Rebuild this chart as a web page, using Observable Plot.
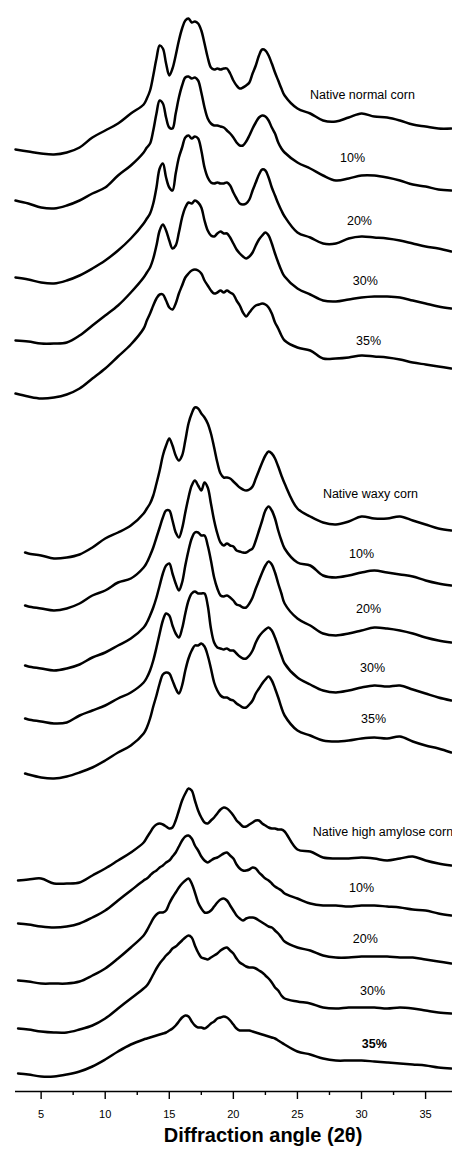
<!DOCTYPE html>
<html><head><meta charset="utf-8">
<script src="https://cdn.jsdelivr.net/npm/d3@7"></script>
<script src="https://cdn.jsdelivr.net/npm/@observablehq/plot@0.6"></script>
<style>html,body{margin:0;padding:0;background:#fff;overflow:hidden}</style>
</head><body><div id="chart"></div>
<script>
// 2θ grid (degrees)
const angles = [3,4,5,6,7,8,9,10,11,12,13,13.25,13.5,13.75,14,14.25,14.5,14.75,15,15.25,15.5,15.75,16,16.25,16.5,16.75,17,17.25,17.5,17.75,18,18.25,18.5,18.75,19,19.25,19.5,19.75,20,20.25,20.5,20.75,21,21.25,21.5,21.75,22,22.25,22.5,22.75,23,23.25,23.5,23.75,24,25,26,27,28,29,30,31,32,33,34,35,36,37];
// first scan angle of each starch group
const startAngle = [3, 3.75, 3.2];

// stacked intensities (a.u.)
const normalNative = [942,940,938,937,939,944,954,961,968,978,987,993,1001,1016,1033,1046,1043,1028,1016,1023,1036,1051,1063,1071,1073,1069,1070,1068,1061,1048,1034,1024,1022,1023,1022,1023,1023,1018,1011,1006,1003,1004,1006,1009,1018,1026,1036,1042,1041,1036,1028,1019,1011,1003,996,983,978,971,970,974,978,975,974,971,967,965,963,963];
const normal10 = [891,888,884,883,886,891,898,904,916,926,939,944,948,961,978,991,988,974,964,963,978,994,1006,1014,1015,1013,1014,1011,999,984,973,968,966,966,965,964,961,958,954,949,946,946,950,956,963,969,974,976,975,971,964,958,949,943,939,929,923,916,911,913,916,916,914,911,907,905,902,901];
const normal20 = [814,812,809,808,811,816,823,831,841,853,868,873,878,888,904,923,928,914,904,901,918,934,944,954,956,953,955,953,941,924,914,909,908,909,908,908,909,906,899,893,888,887,888,892,901,909,917,922,921,914,904,896,888,881,875,859,854,848,848,853,855,854,853,851,848,845,843,840];
const normal30 = [751,750,748,748,749,756,766,776,786,799,814,819,824,833,846,861,867,861,851,843,846,859,874,884,889,888,891,889,884,871,861,856,855,858,860,858,858,854,848,842,838,835,833,835,839,846,852,856,859,856,848,838,829,821,815,803,797,791,790,792,794,795,795,794,791,788,785,783];
const normal35 = [698,695,693,694,697,703,713,723,735,747,763,771,778,786,793,797,797,791,784,782,788,798,806,814,818,821,822,821,818,811,806,801,798,799,801,799,801,799,797,791,786,779,775,779,783,786,787,788,787,784,778,769,763,756,751,744,741,733,733,734,736,735,734,732,729,727,725,723];
const waxyNative = [539,538,536,533,534,537,544,553,559,566,578,583,588,596,608,621,636,646,653,646,636,631,636,651,668,678,684,683,678,674,668,658,644,629,618,614,614,613,610,607,604,602,601,602,605,613,621,629,636,640,638,633,625,616,608,583,575,569,567,570,575,573,573,575,571,567,563,561];
const waxy10 = [486,485,483,481,483,488,496,501,509,513,524,529,536,544,554,564,574,581,581,571,559,554,563,579,594,606,611,606,601,609,604,588,571,558,549,546,548,546,545,541,540,539,539,541,543,551,561,571,581,585,581,573,561,551,543,529,526,516,514,516,519,521,519,517,515,511,508,506];
const waxy20 = [426,425,423,421,423,427,434,439,446,453,464,469,476,484,494,506,518,526,528,518,508,501,509,526,541,553,559,559,556,556,546,531,514,503,496,495,496,494,491,487,486,484,484,488,494,503,511,519,526,530,527,519,508,498,488,473,466,458,456,458,461,464,463,461,458,454,451,449];
const waxy30 = [373,372,370,368,369,376,381,386,393,399,409,414,421,431,444,458,471,478,476,466,458,454,463,478,491,498,500,498,498,498,486,463,449,444,443,442,443,441,441,438,435,433,433,436,441,449,455,459,462,464,461,454,445,436,428,414,407,401,399,401,404,406,405,406,402,398,394,391];
const waxy35 = [318,317,314,313,315,319,324,331,339,346,358,364,373,385,396,408,417,419,418,411,403,398,406,421,433,441,446,446,448,445,436,423,409,401,396,394,394,392,391,388,386,384,384,387,391,398,403,408,412,415,411,403,394,384,376,361,356,351,350,351,353,354,353,355,350,346,343,339];
const amyloseNative = [211,212,213,208,208,209,216,223,231,239,249,254,259,264,267,268,267,265,263,264,271,281,291,298,303,301,291,281,274,269,268,271,274,278,282,284,283,280,276,271,268,265,265,267,269,271,271,268,266,264,263,263,262,262,260,242,240,234,233,233,234,233,231,233,235,231,228,226];
const amylose10 = [168,167,165,164,165,168,174,181,191,201,211,213,216,219,221,224,226,229,231,235,239,245,251,255,256,253,246,241,235,231,229,231,233,234,236,238,239,236,233,227,223,221,221,222,224,223,219,216,213,211,208,205,203,201,198,193,188,186,186,185,186,186,185,184,182,181,178,176];
const amylose20 = [111,110,108,108,108,110,116,123,133,144,156,161,167,173,177,179,179,181,188,194,199,204,208,211,213,208,199,189,183,179,179,181,185,189,192,193,191,186,181,176,173,171,173,174,174,173,171,169,167,165,164,161,158,154,150,144,141,136,134,134,135,135,135,134,134,132,130,128];
const amylose30 = [63,62,60,59,59,62,66,73,83,93,103,106,111,117,123,128,132,136,139,143,145,148,151,154,156,154,146,139,134,133,132,134,136,138,141,143,144,141,138,133,129,127,125,124,124,123,121,119,116,113,109,104,101,96,93,90,88,84,83,84,84,84,83,84,83,81,79,78];
const amylose35 = [18,17,15,15,17,20,25,32,40,47,52,53,54,55,56,57,58,59,61,63,66,70,74,76,75,70,66,64,64,63,65,68,70,73,74,75,74,71,67,63,61,61,61,61,60,59,58,57,56,55,54,53,51,49,47,40,37,33,31,31,31,30,29,28,27,26,24,23];

const seriesNames = ["normal native","normal 10%","normal 20%","normal 30%","normal 35%","waxy native","waxy 10%","waxy 20%","waxy 30%","waxy 35%","amylose native","amylose 10%","amylose 20%","amylose 30%","amylose 35%"];
const seriesGroup = [0,0,0,0,0,1,1,1,1,1,2,2,2,2,2];
const seriesValues = [normalNative,normal10,normal20,normal30,normal35,waxyNative,waxy10,waxy20,waxy30,waxy35,amyloseNative,amylose10,amylose20,amylose30,amylose35];

// curve labels
const labelText = ["Native normal corn","10%","20%","30%","35%","Native waxy corn","10%","20%","30%","35%","Native high amylose corn","10%","20%","30%","35%"];
const labelAngle = [30.07,29.3,29.84,30.3,30.55,30.7,30.0,30.55,30.86,30.94,26.2,30.0,30.3,30.86,31.0];
const labelIntensity = [997,934,871,811,751,598,538,483,424,373,260,204,153,101,48];
const labelAnchor = ["middle","middle","middle","middle","middle","middle","middle","middle","middle","middle","start","middle","middle","middle","middle"];
const labelWeight = ["normal","normal","normal","normal","normal","normal","normal","normal","normal","normal","normal","normal","normal","normal","bold"];

const majorTicks = [5,10,15,20,25,30,35];
const minorTicks = [7.5,12.5,17.5,22.5,27.5,32.5];
const xTitle = "Diffraction angle (2θ)";

const rows = [];
seriesValues.forEach((vals, s) => vals.forEach((v, i) => rows.push({
  series: seriesNames[s],
  angle: i === 0 ? startAngle[seriesGroup[s]] : angles[i],
  intensity: v
})));
const labels = labelText.map((t, i) => ({text: t, angle: labelAngle[i], intensity: labelIntensity[i], anchor: labelAnchor[i], weight: labelWeight[i]}));

const font = "'Liberation Sans', Arial, Helvetica, sans-serif";
const plot = Plot.plot({
  width: 452, height: 1152,
  marginLeft: 15, marginRight: 0, marginTop: 0, marginBottom: 61,
  style: {fontFamily: font, background: "white", color: "black", overflow: "visible"},
  x: {domain: [3, 37.1], label: null},
  y: {domain: [0, 1091], axis: null},
  marks: [
    Plot.line(rows, {x: "angle", y: "intensity", z: "series", curve: "catmull-rom", stroke: "black", strokeWidth: 2.5, strokeLinejoin: "round"}),
    Plot.ruleY([0], {stroke: "black", strokeWidth: 1.6}),
    Plot.axisX({ticks: majorTicks, tickSize: 8, tickPadding: 11, fontSize: 11, label: null, strokeWidth: 1.4, tickFormat: d => String(d)}),
    Plot.axisX({ticks: minorTicks, tickSize: 4, label: null, strokeWidth: 1.4, tickFormat: () => ""}),
    Plot.text(labels.filter(d => d.anchor === "middle" && d.weight === "normal"), {x: "angle", y: "intensity", text: "text", fontSize: 12.5, textAnchor: "middle", fill: "black"}),
    Plot.text(labels.filter(d => d.anchor === "start"), {x: "angle", y: "intensity", text: "text", fontSize: 12.5, textAnchor: "start", fill: "black"}),
    Plot.text(labels.filter(d => d.weight === "bold"), {x: "angle", y: "intensity", text: "text", fontSize: 12.5, fontWeight: "bold", textAnchor: "middle", fill: "black"}),
    Plot.text([xTitle], {text: d => d, frameAnchor: "bottom", dx: 29, dy: 50, fontSize: 20, fontWeight: "bold", fill: "black"})
  ]
});
document.getElementById("chart").appendChild(plot);
</script>
</body></html>
